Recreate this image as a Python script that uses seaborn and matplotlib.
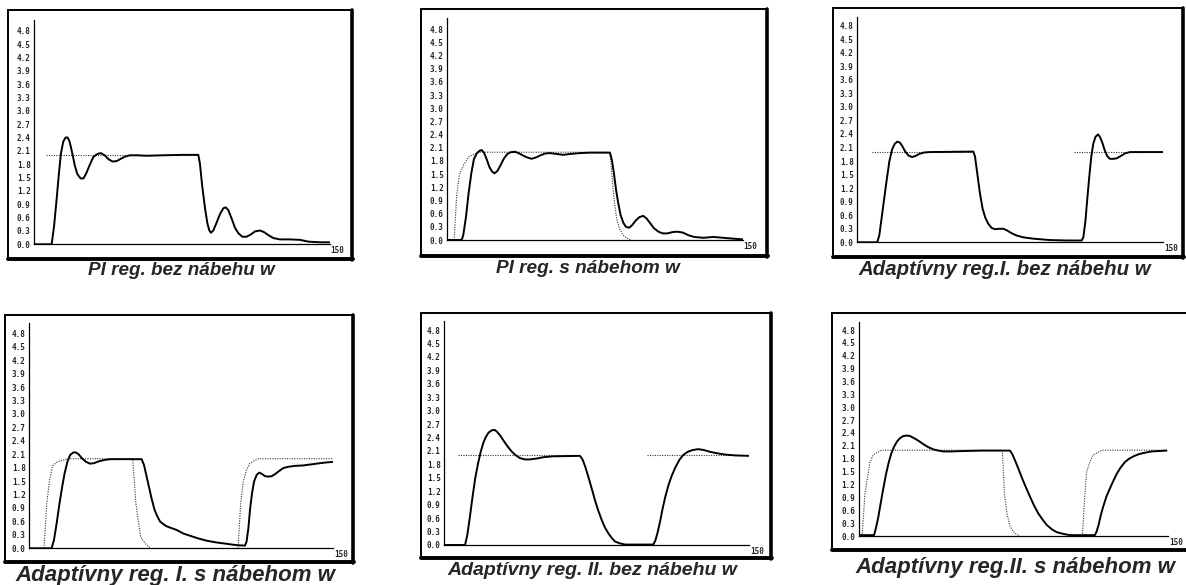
import numpy as np
import pandas as pd
import matplotlib
matplotlib.use("Agg")
import matplotlib.pyplot as plt
import matplotlib.transforms as mtransforms
from matplotlib.patches import Rectangle
from matplotlib.lines import Line2D
import seaborn as sns

# ---- data (time 0..150, output y, reference w) ----
p1_t = [0, 8.8, 10.0, 11.3, 12.5, 13.5, 14.7, 15.9, 16.9, 17.9,
        19.1, 20.5, 21.8, 23.5, 24.9, 26.2, 27.9, 29.9, 32.0, 33.8,
        35.7, 37.7, 39.7, 41.8, 43.8, 46.0, 48.5, 51.9, 57.0, 65.0,
        75.0, 83.2, 84.0, 85.2, 86.6, 87.8, 88.8, 89.6, 90.8, 92.5,
        94.2, 95.9, 97.1, 98.4, 100.1, 101.8, 103.5, 105.5, 107.7, 109.8,
        112.0, 114.5, 116.7, 118.9, 121.3, 124.6, 129.7, 134.8, 139.0, 144.9, 150]
p1_y = [0, 0, 0.4, 1.0, 1.6, 2.04, 2.31, 2.40, 2.40, 2.31,
        2.08, 1.78, 1.58, 1.48, 1.48, 1.58, 1.76, 1.96, 2.03, 2.05,
        2.0, 1.91, 1.86, 1.87, 1.92, 1.97, 2.0, 2.0, 1.99, 2.0,
        2.01, 2.01, 1.82, 1.3, 0.81, 0.47, 0.31, 0.26, 0.31, 0.49,
        0.68, 0.81, 0.83, 0.77, 0.58, 0.37, 0.25, 0.17, 0.17, 0.22,
        0.29, 0.31, 0.27, 0.2, 0.14, 0.11, 0.11, 0.1, 0.06, 0.045, 0.045]
p1_w_t = [5.7, 83.2]
p1_w_v = [2.0, 2.0]
p1_w_seg = [0, 0]

p2_t = [0, 7.3, 8.1, 9.5, 10.8, 12.2, 13.5, 14.9, 16.3, 17.4,
        18.6, 20.0, 21.3, 22.7, 24.0, 25.4, 27.1, 28.8, 30.5, 32.2,
        34.4, 36.6, 38.6, 40.6, 42.8, 45.0, 47.4, 49.6, 52.1, 55.5,
        58.9, 62.3, 67.4, 72.5, 82.6, 83.6, 84.6, 85.7, 86.8, 88.0,
        89.4, 90.7, 92.4, 93.9, 95.6, 97.5, 99.5, 101.2, 102.9, 104.9,
        107.2, 109.4, 111.7, 114.4, 116.8, 119.5, 122.4, 125.3, 130.0, 135.1,
        140.2, 145.3, 150]
p2_y = [0, 0, 0.11, 0.53, 1.06, 1.52, 1.84, 1.97, 2.03, 2.05,
        1.99, 1.84, 1.67, 1.56, 1.52, 1.57, 1.71, 1.86, 1.96, 2.0,
        2.01, 1.97, 1.92, 1.88, 1.85, 1.88, 1.93, 1.97, 1.98, 1.96,
        1.94, 1.96, 1.98, 1.99, 1.99, 1.82, 1.52, 1.14, 0.84, 0.57,
        0.39, 0.3, 0.28, 0.34, 0.44, 0.52, 0.55, 0.49, 0.39, 0.27,
        0.19, 0.15, 0.15, 0.18, 0.19, 0.17, 0.11, 0.07, 0.05, 0.07,
        0.05, 0.03, 0.015]
p2_w_t = [3.5, 4.7, 6.1, 8.5, 11.2, 14.6, 16, 82.6, 84.5, 86, 87.5, 89.5, 91, 93]
p2_w_v = [0, 0.99, 1.48, 1.73, 1.91, 1.97, 2.0, 2.0, 1.0, 0.48, 0.25, 0.1, 0.05, 0]
p2_w_seg = [0] * 14

p3_t = [0, 9.8, 10.8, 11.9, 13.1, 14.4, 15.7, 17.0, 18.3, 19.6,
        20.9, 22.2, 23.5, 25.2, 26.8, 28.4, 30.4, 32.7, 35.6, 56.9,
        57.7, 58.8, 60.1, 61.4, 62.7, 64.2, 65.8, 67.5, 69.4, 71.6,
        73.5, 75.7, 78.1, 81.4, 86.3, 94.4, 102.6, 110.0, 110.8, 111.8,
        112.7, 113.7, 114.7, 115.7, 116.8, 118.0, 118.9, 120.1, 121.2, 122.5,
        123.8, 125.5, 127.1, 129.1, 131.2, 133.7, 150]
p3_y = [0, 0, 0.16, 0.53, 0.94, 1.38, 1.79, 2.05, 2.18, 2.23,
        2.21, 2.12, 2.01, 1.92, 1.89, 1.91, 1.96, 1.99, 2.0, 2.01,
        1.9, 1.53, 1.09, 0.75, 0.55, 0.41, 0.32, 0.29, 0.3, 0.3,
        0.26, 0.2, 0.15, 0.11, 0.08, 0.05, 0.04, 0.04, 0.11, 0.46,
        0.94, 1.45, 1.9, 2.19, 2.34, 2.39, 2.34, 2.21, 2.05, 1.91,
        1.85, 1.85, 1.86, 1.91, 1.97, 2.0, 2.0]
p3_w_t = [7.0, 56.9, 106.2, 150]
p3_w_v = [2.0, 2.0, 2.0, 2.0]
p3_w_seg = [0, 0, 1, 1]

p4_t = [0, 11.0, 12.2, 13.5, 14.8, 16.1, 17.4, 18.8, 20.1, 21.7,
        23.0, 24.3, 26.0, 28.0, 29.9, 31.9, 34.2, 36.8, 39.8, 55.4,
        56.6, 57.9, 59.2, 60.5, 61.8, 63.2, 64.5, 66.1, 67.8, 70.2,
        72.7, 76.0, 79.3, 83.4, 87.5, 92.4, 97.4, 102.3, 106.4, 107.2,
        108.1, 108.9, 109.9, 110.9, 112.2, 113.5, 114.8, 116.3, 117.9, 119.6,
        121.4, 123.4, 125.3, 127.8, 131.1, 135.2, 140.1, 145.1, 150]
p4_y = [0, 0, 0.19, 0.56, 0.97, 1.34, 1.67, 1.93, 2.08, 2.14,
        2.14, 2.1, 2.01, 1.93, 1.89, 1.9, 1.94, 1.97, 1.99, 1.99,
        1.86, 1.6, 1.34, 1.08, 0.86, 0.71, 0.6, 0.54, 0.49, 0.45,
        0.41, 0.33, 0.28, 0.22, 0.17, 0.13, 0.1, 0.07, 0.06, 0.15,
        0.45, 0.86, 1.23, 1.49, 1.64, 1.69, 1.66, 1.61, 1.6, 1.61,
        1.66, 1.73, 1.79, 1.82, 1.84, 1.85, 1.88, 1.91, 1.93]
p4_w_t = [7.3, 8.6, 9.9, 11.5, 13.8, 16.8, 19, 51, 52.6, 54.9, 56.2, 57.9, 60,
          103, 104.3, 105.6, 107.2, 108.9, 111.3, 113, 150]
p4_w_v = [0, 1.0, 1.49, 1.84, 1.93, 1.97, 2.0, 2.0, 1.0, 0.26, 0.17, 0.07, 0,
          0, 1.0, 1.49, 1.75, 1.9, 1.96, 2.0, 2.0]
p4_w_seg = [0] * 13 + [1] * 8

p5_t = [0, 10.2, 11.3, 12.6, 13.9, 15.2, 16.6, 17.9, 19.2, 20.5,
        21.8, 23.3, 24.8, 26.1, 27.7, 29.3, 31.0, 32.9, 34.9, 37.2,
        39.7, 42.1, 45.4, 48.7, 53.6, 66.7, 68.0, 69.3, 70.8, 72.5,
        74.1, 75.7, 77.4, 79.0, 80.7, 82.3, 83.9, 86.1, 88.9, 102.8,
        103.8, 104.8, 106.1, 107.4, 108.7, 110.2, 111.8, 113.6, 115.6, 117.5,
        119.7, 122.1, 124.9, 127.7, 130.7, 133.9, 138.0, 143.0, 150]
p5_y = [0, 0, 0.22, 0.63, 1.08, 1.49, 1.82, 2.08, 2.28, 2.42,
        2.51, 2.56, 2.57, 2.52, 2.43, 2.32, 2.21, 2.1, 2.01, 1.94,
        1.91, 1.91, 1.93, 1.96, 1.98, 1.99, 1.91, 1.75, 1.53, 1.26,
        1.0, 0.77, 0.56, 0.39, 0.26, 0.16, 0.08, 0.04, 0.01, 0.01,
        0.1, 0.26, 0.52, 0.82, 1.08, 1.33, 1.54, 1.73, 1.9, 2.01,
        2.08, 2.12, 2.14, 2.12, 2.08, 2.05, 2.02, 2.0, 1.99]
p5_w_t = [6.9, 66.7, 99.5, 150]
p5_w_v = [2.0, 2.0, 2.0, 2.0]
p5_w_seg = [0, 0, 1, 1]

p6_t = [0, 7.3, 8.2, 9.4, 10.5, 11.8, 13.1, 14.4, 15.7, 17.0,
        18.4, 19.9, 21.5, 23.1, 24.7, 26.7, 28.8, 31.2, 33.6, 36.0,
        38.4, 40.9, 44.1, 50.6, 60.3, 73.2, 74.3, 75.6, 77.2, 78.8,
        80.8, 82.9, 84.8, 86.9, 88.9, 91.0, 93.4, 95.8, 99.0, 102.3,
        114.4, 115.2, 116.2, 117.3, 118.4, 120.0, 121.7, 123.3, 124.9, 126.8,
        128.9, 131.0, 133.3, 135.9, 138.6, 141.8, 145.6, 149.1]
p6_y = [0.02, 0.02, 0.18, 0.45, 0.76, 1.11, 1.44, 1.71, 1.93, 2.08,
        2.2, 2.28, 2.33, 2.34, 2.33, 2.28, 2.22, 2.14, 2.07, 2.02,
        1.99, 1.97, 1.97, 1.98, 1.99, 1.99, 1.91, 1.77, 1.58, 1.38,
        1.15, 0.92, 0.72, 0.53, 0.39, 0.26, 0.16, 0.09, 0.05, 0.02,
        0.02, 0.1, 0.26, 0.49, 0.68, 0.92, 1.11, 1.28, 1.44, 1.59,
        1.72, 1.8, 1.86, 1.91, 1.94, 1.97, 1.98, 1.99]
p6_w_t = [1.5, 2.9, 4.5, 5.3, 6.9, 9.4, 11, 69.5, 70.5, 71.9, 73.2, 74.8, 76.4, 78,
          108.3, 109.6, 110.4, 112, 113.6, 116.8, 118, 150]
p6_w_v = [0, 0.99, 1.48, 1.72, 1.89, 1.96, 2.0, 2.0, 1.0, 0.49, 0.23, 0.1, 0.04, 0,
          0, 1.0, 1.5, 1.73, 1.89, 1.97, 2.0, 2.0]
p6_w_seg = [0] * 14 + [1] * 8

captions = ["PI reg. bez nábehu w", "PI reg. s nábehom w", "Adaptívny reg.I. bez nábehu w",
            "Adaptívny reg. I. s nábehom w", "Adaptívny reg. II. bez nábehu w",
            "Adaptívny reg.II. s nábehom w"]
y_ticks = [round(0.3 * i, 1) for i in range(17)]
x_ticks = [7.5 * i for i in range(1, 21)]

panels = [
    (p1_t, p1_y, p1_w_t, p1_w_v, p1_w_seg),
    (p2_t, p2_y, p2_w_t, p2_w_v, p2_w_seg),
    (p3_t, p3_y, p3_w_t, p3_w_v, p3_w_seg),
    (p4_t, p4_y, p4_w_t, p4_w_v, p4_w_seg),
    (p5_t, p5_y, p5_w_t, p5_w_v, p5_w_seg),
    (p6_t, p6_y, p6_w_t, p6_w_v, p6_w_seg),
]

# layout in pixels (from top-left): frame box, axis origin/end, caption top
W, H = 1186, 585
frames = [(8, 10, 352, 259), (421, 9, 767, 256), (833, 8, 1183, 257),
          (5, 315, 353, 562), (421, 313, 771, 558), (832, 313, 1192, 550)]
axes_px = [(34.3, 330, 244.3, 30.7, 20), (447.3, 742.7, 240, 29.3, 18),
           (857.3, 1163.3, 242.3, 25.7, 17), (29.3, 333.3, 548.3, 333.3, 323),
           (444.3, 749.3, 545, 330, 320.7), (859, 1168.3, 536, 330, 321.7)]
cap_pos = [(181, 262, 13.6), (588, 260, 13.7), (1005, 260, 14.7),
           (175, 565, 16), (592, 562, 14), (1015, 557, 16)]

sns.set_style("white")
plt.rcParams["font.family"] = ["DejaVu Sans"]

fig = plt.figure(figsize=(W / 100, H / 100), dpi=100)
px = mtransforms.Affine2D().scale(1 / W, -1 / H).translate(0, 1) + fig.transFigure

tick_font = dict(family="DejaVu Sans Mono", weight="bold", size=5.5)

for i, (t, y, wt, wv, wseg) in enumerate(panels):
    l, tp, r, b = frames[i]
    fig.add_artist(Rectangle((l, b), r - l, tp - b, transform=px, fill=False,
                             lw=1.4, edgecolor="black"))
    fig.add_artist(Line2D([r, r], [tp, b + 1], transform=px, lw=2.6, color="black"))
    fig.add_artist(Line2D([l, r + 1], [b, b], transform=px, lw=2.8, color="black"))

    x0, xe, y0, y48, ytop = axes_px[i]
    ax = fig.add_axes([x0 / W, (H - y0) / H, (xe - x0) / W, (y0 - ytop) / H])
    ax.set_facecolor("none")

    wdf = pd.DataFrame({"t": wt, "w": wv, "seg": wseg})
    sns.lineplot(data=wdf, x="t", y="w", units="seg", estimator=None, ax=ax,
                 color="#333333", lw=0.8, linestyle=(0, (1, 1.2)))
    sns.lineplot(x=t, y=y, ax=ax, color="black", lw=1.4,
                 solid_joinstyle="round", solid_capstyle="round")

    ax.set_xlim(0, 150)
    ax.set_ylim(0, 4.8 * (y0 - ytop) / (y0 - y48))
    ax.set_xlabel("")
    ax.set_ylabel("")
    for s in ["top", "right"]:
        ax.spines[s].set_visible(False)
    for s in ["left", "bottom"]:
        ax.spines[s].set_linewidth(0.9)
        ax.spines[s].set_color("black")
    ax.set_yticks(y_ticks)
    ax.set_yticklabels([f"{v:.1f}" for v in y_ticks], fontdict=tick_font)
    ax.set_xticks(x_ticks)
    ax.set_xticklabels([])
    ax.tick_params(axis="y", length=0, pad=2.5)
    ax.tick_params(axis="x", direction="in", length=2.5, width=0.9, color="black")
    ax.annotate("150", xy=(150, 0), xycoords="data", xytext=(0.5, -1.5),
                textcoords="offset points", ha="left", va="top", **tick_font)

    cx, cy, fs = cap_pos[i]
    fig.text(cx, cy, captions[i], transform=px, ha="center", va="top",
             family="Liberation Sans", weight="bold", style="italic", fontsize=fs)

fig.savefig("out.png", dpi=100)
